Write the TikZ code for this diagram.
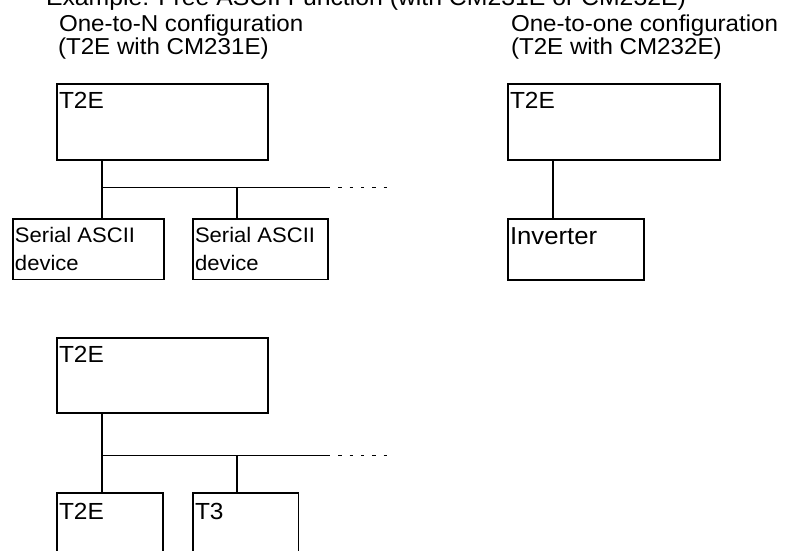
\documentclass[tikz,border=0pt]{standalone}
\usepackage{fontspec}
\setmainfont{Liberation Sans}[FakeStretch=1.05]
\begin{document}
\begin{tikzpicture}[x=1pt,y=-1pt,
  box/.style={draw,line width=1.7pt,rectangle,inner sep=0pt,anchor=north west},
  txt/.style={anchor=base west,inner sep=0pt,outer sep=0pt},
  ttl/.style={txt,font=\fontsize{23}{27}\selectfont},
  big/.style={txt,font=\fontsize{23.3}{27}\selectfont},
  small/.style={txt,font=\fontsize{21}{25}\selectfont},
  inv/.style={txt,font=\fontsize{24.5}{28}\selectfont},
  wire/.style={line width=1.7pt},
  dotline/.style={line width=1.7pt,dash pattern=on 3.3pt off 8pt}]
\useasboundingbox (0,0) rectangle (788,550);
\clip (0,0) rectangle (788,550);
\fill[white] (0,0) rectangle (788,550);

% titles
\node[ttl,font=\fontsize{23.6}{27}\selectfont] (title) at (46,5) {Example: Free ASCII Function (with CM231E or CM232E)};
\node[ttl] (t1a) at (59,31) {One-to-N configuration};
\node[ttl] (t1b) at (58,54.5) {(T2E with CM231E)};
\node[ttl] (t2a) at (511,31) {One-to-one configuration};
\node[ttl] (t2b) at (511,54.5) {(T2E with CM232E)};

% one-to-N
\node[box,minimum width=211pt,minimum height=76pt] (a) at (56,83) {};
\node[big] (alab) at (59,108) {T2E};
\node[box,minimum width=151pt,minimum height=60.5pt] (sa1) at (12,218) {};
\node[small] (sa1l1) at (15,242.5) {Serial ASCII};
\node[small] (sa1l2) at (15,270) {device};
\node[box,minimum width=135pt,minimum height=60.5pt] (sa2) at (192,218) {};
\node[small] (sa2l1) at (195,242.5) {Serial ASCII};
\node[small] (sa2l2) at (195,270) {device};
\coordinate (j1) at (102,187.5);
\coordinate (k1) at (237,187.5);
\coordinate (e1) at (327,187.5);
\coordinate (d1) at (389,187.5);
\draw[wire] (a.south -| j1) -- (j1 |- sa1.north);
\draw[wire] (j1) -- (e1);
\draw[dotline] (e1) -- (d1);
\draw[wire] (k1) -- (k1 |- sa2.north);

% one-to-one
\node[box,minimum width=212pt,minimum height=76pt] (b) at (507,83) {};
\node[big] (blab) at (510,108) {T2E};
\node[box,minimum width=136pt,minimum height=61pt] (inv) at (507,218) {};
\node[inv] (invl) at (510,244) {Inverter};
\coordinate (jb) at (553,170);
\draw[wire] (b.south -| jb) -- (jb |- inv.north);

% bottom network
\node[box,minimum width=211pt,minimum height=75pt] (c) at (56,337) {};
\node[big] (clab) at (59,362.5) {T2E};
\node[box,minimum width=106pt,minimum height=80pt] (d) at (56,492) {};
\node[big] (dlab) at (59,519.5) {T2E};
\node[box,minimum width=105.5pt,minimum height=80pt] (e) at (192,492) {};
\node[big] (elab) at (195,519.5) {T3};
\coordinate (j2) at (102,455.5);
\coordinate (k2) at (237,455.5);
\coordinate (e2) at (327,455.5);
\coordinate (d2) at (389,455.5);
\draw[wire] (c.south -| j2) -- (j2 |- d.north);
\draw[wire] (j2) -- (e2);
\draw[dotline] (e2) -- (d2);
\draw[wire] (k2) -- (k2 |- e.north);
\end{tikzpicture}
\end{document}
